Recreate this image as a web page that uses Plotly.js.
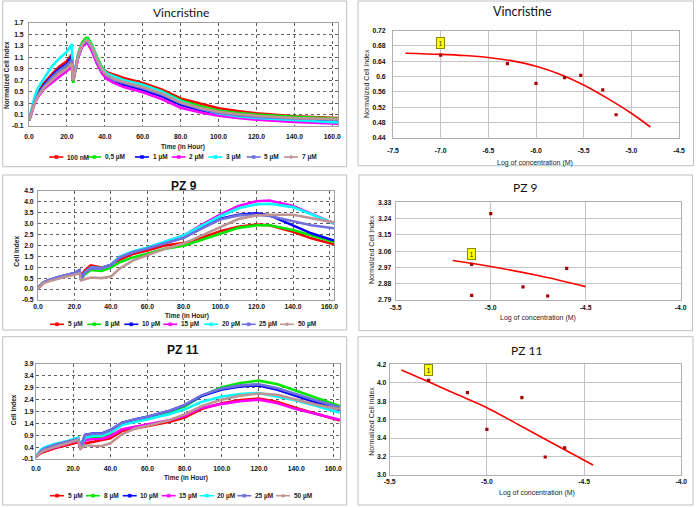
<!DOCTYPE html>
<html><head><meta charset="utf-8">
<script src="https://cdn.plot.ly/plotly-3.0.1.min.js"></script>
<style>html,body{margin:0;padding:0;background:#fff}#chart{width:696px;height:507px}</style>
</head><body><div id="chart"></div>
<script>
// ================= DATA =================
const vinLabels = ['100 nM','0,5 µM','1 µM','2 µM','3 µM','5 µM','7 µM'];
const pzLabels  = ['5 µM','8 µM','10 µM','15 µM','20 µM','25 µM','50 µM'];

// Vincristine – time course (Normalized Cell Index)
const vinTime = [0,1,3,5,8,12,16,20,22.5,23.3,24.5,26,28,30,31,33,36,38.5,41,45,50,60,70,80,90,100,110,120,140,163];
const vin100nM = [0,0.12,0.35,0.5,0.65,0.8,0.94,1.03,1.15, 0.72,0.9,1.15,1.33,1.4,1.4,1.3,1.08,0.92,0.84,0.79, 0.74,0.65,0.54,0.38,0.29,0.21,0.16,0.12,0.07,0.04];
const vin05uM  = [0,0.1,0.32,0.45,0.58,0.72,0.84,0.92,1.0, 0.65,0.88,1.17,1.36,1.44,1.44,1.33,1.1,0.92,0.82,0.76, 0.7,0.62,0.51,0.35,0.25,0.17,0.13,0.1,0.06,0.03];
const vin1uM   = [0,0.1,0.33,0.47,0.62,0.77,0.9,0.98,1.12, 0.72,0.88,1.12,1.3,1.36,1.36,1.25,1.0,0.84,0.74,0.67, 0.62,0.53,0.42,0.27,0.18,0.11,0.07,0.04,0.0,-0.03];
const vin2uM   = [0,0.08,0.3,0.42,0.55,0.66,0.76,0.86,0.93, 0.7,0.86,1.1,1.28,1.35,1.34,1.22,0.98,0.82,0.72,0.65, 0.58,0.49,0.37,0.22,0.14,0.08,0.04,0.01,-0.03,-0.06];
const vin3uM   = [0,0.15,0.42,0.58,0.74,0.94,1.08,1.2,1.33, 0.74,0.9,1.14,1.32,1.4,1.4,1.3,1.07,0.9,0.82,0.77, 0.7,0.62,0.5,0.33,0.21,0.12,0.07,0.04,0.0,-0.04];
const vin5uM   = [0,0.1,0.33,0.46,0.6,0.75,0.87,0.96,1.06, 0.72,0.88,1.13,1.31,1.38,1.37,1.27,1.03,0.86,0.77,0.7, 0.65,0.56,0.45,0.3,0.2,0.13,0.09,0.06,0.03,0.01];
const vin7uM   = [0,0.09,0.31,0.44,0.57,0.7,0.82,0.9,0.99, 0.7,0.88,1.14,1.32,1.4,1.39,1.29,1.05,0.88,0.79,0.72, 0.67,0.58,0.47,0.31,0.22,0.15,0.11,0.08,0.04,0.02];

// PZ 9 – time course (Cell Index)
const pz9Time = [0,1,2.5,5,10,15,20,22.8,23.6,25.8,29,35,40,45,52,60,70,80,90,100,110,120,127,140,150,162.5];
const pz9_5uM  = [0,0.14,0.26,0.36,0.5,0.6,0.7,0.8,0.6,0.87,1.08,0.99,1.1,1.35,1.6,1.77,2.0,2.1,2.35,2.65,2.85,2.95,2.92,2.62,2.32,2.05];
const pz9_8uM  = [0,0.14,0.26,0.36,0.5,0.6,0.7,0.8,0.45,0.68,0.87,0.83,0.98,1.23,1.45,1.62,1.85,1.98,2.25,2.55,2.8,2.92,2.92,2.7,2.45,2.15];
const pz9_10uM = [0,0.15,0.28,0.38,0.52,0.63,0.74,0.86,0.45,0.77,0.97,0.95,1.1,1.45,1.68,1.87,2.13,2.36,2.8,3.22,3.4,3.47,3.38,2.92,2.55,2.22];
const pz9_15uM = [0,0.14,0.27,0.37,0.51,0.62,0.72,0.84,0.45,0.77,0.97,0.95,1.1,1.47,1.7,1.88,2.15,2.45,2.95,3.4,3.8,4.02,4.05,3.8,3.45,3.0];
const pz9_20uM = [0,0.14,0.27,0.37,0.51,0.62,0.72,0.84,0.45,0.78,0.98,0.96,1.1,1.48,1.72,1.9,2.17,2.45,2.9,3.33,3.7,3.88,3.9,3.75,3.42,3.0];
const pz9_25uM = [0,0.15,0.28,0.38,0.52,0.63,0.74,0.87,0.45,0.77,0.97,0.95,1.1,1.45,1.68,1.86,2.12,2.35,2.78,3.18,3.37,3.4,3.34,3.1,2.92,2.78];
const pz9_50uM = [0,0.12,0.24,0.33,0.46,0.56,0.65,0.72,0.4,0.45,0.53,0.5,0.57,0.95,1.3,1.55,1.85,2.08,2.45,2.8,3.2,3.37,3.4,3.4,3.25,3.05];

// PZ 11 – time course (Cell Index)
const pz11Time = [0,1,2.5,4.5,10,17,22.7,24,26.4,31,35.5,40,46.4,53.6,60,72,80,89,100,110,120,130,140,150,163.5];
const pz11_5uM  = [0,0.06,0.14,0.21,0.35,0.49,0.62,0.39,0.56,0.63,0.7,0.77,1.08,1.19,1.26,1.47,1.65,2.0,2.25,2.38,2.44,2.3,2.05,1.82,1.52];
const pz11_8uM  = [0,0.08,0.2,0.3,0.45,0.6,0.74,0.4,0.72,0.81,0.85,0.98,1.38,1.52,1.62,1.88,2.12,2.55,2.92,3.1,3.2,3.05,2.76,2.5,2.13];
const pz11_10uM = [0,0.09,0.22,0.33,0.48,0.63,0.76,0.4,0.91,0.98,0.98,1.12,1.43,1.57,1.68,1.93,2.17,2.55,2.83,2.95,3.0,2.82,2.55,2.3,1.95];
const pz11_15uM = [0,0.07,0.17,0.26,0.4,0.55,0.68,0.31,0.7,0.74,0.74,0.87,1.15,1.26,1.33,1.54,1.72,2.05,2.22,2.33,2.4,2.25,2.0,1.8,1.55];
const pz11_20uM = [0,0.13,0.28,0.39,0.53,0.66,0.81,0.4,0.81,0.87,0.88,1.02,1.33,1.47,1.57,1.79,1.99,2.3,2.53,2.63,2.68,2.52,2.36,2.15,1.85];
const pz11_25uM = [0,0.1,0.23,0.34,0.49,0.64,0.74,0.4,0.9,0.97,0.97,1.11,1.43,1.57,1.68,1.93,2.18,2.58,2.87,3.0,3.05,2.88,2.62,2.38,2.08];
const pz11_50uM = [0,0.07,0.17,0.26,0.41,0.56,0.7,0.33,0.49,0.45,0.45,0.56,0.95,1.19,1.3,1.54,1.78,2.12,2.4,2.57,2.66,2.6,2.4,2.2,1.98];

// Dose-response (log of concentration vs normalized cell index)
const vinLogConc = [-7.0,-6.3,-6.0,-5.7,-5.53,-5.3,-5.16];
const vinNorm    = [0.656,0.634,0.582,0.597,0.603,0.565,0.500];
const vinFitX    = [-7.37,-7.0,-6.75,-6.5,-6.25,-6.0,-5.75,-5.5,-5.25,-5.0,-4.8];
const vinFitY    = [0.661,0.658,0.655,0.650,0.641,0.627,0.606,0.578,0.543,0.504,0.468];

const pz9LogConc = [-5.1,-5.1,-5.0,-4.83,-4.7,-4.6];
const pz9Norm    = [2.987,2.816,3.267,2.862,2.812,2.965];
const pz9FitX    = [-5.2,-5.0,-4.75,-4.5];
const pz9FitY    = [3.008,2.975,2.925,2.864];

const pz11LogConc = [-5.3,-5.1,-5.0,-4.82,-4.7,-4.6];
const pz11Norm    = [4.025,3.893,3.495,3.839,3.195,3.293];
const pz11FitX    = [-5.44,-5.3,-5.15,-5.0,-4.85,-4.7,-4.454];
const pz11FitY    = [4.139,4.01,3.869,3.73,3.56,3.388,3.108];

const pointLabel = '1';

// Tick labels
const timeTickVals = [0,20,40,60,80,100,120,140,160];
const timeTickText = ['0.0','20.0','40.0','60.0','80.0','100.0','120.0','140.0','160.0'];
const vinYTickVals = [-0.1,0.1,0.3,0.5,0.7,0.9,1.1,1.3,1.5,1.7];
const vinYTickText = ['-0.1','0.1','0.3','0.5','0.7','0.9','1.1','1.3','1.5','1.7'];
const pz9YTickVals = [-0.5,0,0.5,1,1.5,2,2.5,3,3.5,4,4.5];
const pz9YTickText = ['-0.5','0.0','0.5','1.0','1.5','2.0','2.5','3.0','3.5','4.0','4.5'];
const pz11YTickVals = [-0.1,0.4,0.9,1.4,1.9,2.4,2.9,3.4,3.9];
const pz11YTickText = ['-0.1','0.4','0.9','1.4','1.9','2.4','2.9','3.4','3.9'];
const vinXTickVals = [-7.5,-7,-6.5,-6,-5.5,-5,-4.5];
const vinXTickText = ['-7.5','-7.0','-6.5','-6.0','-5.5','-5.0','-4.5'];
const vinNTickVals = [0.44,0.48,0.52,0.56,0.6,0.64,0.68,0.72];
const vinNTickText = ['0.44','0.48','0.52','0.56','0.6','0.64','0.68','0.72'];
const pzXTickVals = [-5.5,-5,-4.5,-4];
const pzXTickText = ['-5.5','-5.0','-4.5','-4.0'];
const pz9NTickVals = [2.79,2.88,2.97,3.06,3.15,3.24,3.33];
const pz9NTickText = ['2.79','2.88','2.97','3.06','3.15','3.24','3.33'];
const pz11NTickVals = [3.0,3.2,3.4,3.6,3.8,4.0,4.2];
const pz11NTickText = ['3.0','3.2','3.4','3.6','3.8','4.0','4.2'];

// ================= STYLE / LAYOUT =================
const W = 696, H = 507;
const colors = ['#ff0000','#00e800','#0000ff','#ff00ff','#00ffff','#7070dd','#bf9494'];
const xd = (a,b) => [a/W, b/W];
const yd = (t,b) => [1-b/H, 1-t/H];
const px = x => x/W, py = y => 1-y/H;

const tickFont = {family:'Liberation Sans', size:6.8, color:'#111', weight:'bold'};

function leftAxis(extra){
  return Object.assign({gridcolor:'#606060', griddash:'dot', gridwidth:1, showline:true, linecolor:'#a0a0a0',
    mirror:true, zeroline:false, ticks:'', tickfont:tickFont, tickmode:'array', ticklabelstandoff:3, fixedrange:true}, extra);
}
function rightAxis(extra){
  return Object.assign({gridcolor:'#c4c4c4', gridwidth:1, showline:true, linecolor:'#b0b0b0',
    mirror:true, zeroline:false, ticks:'', tickfont:tickFont, tickmode:'array', ticklabelstandoff:2, fixedrange:true}, extra);
}

const traces = [];
function addSeries(xaxis, yaxis, time, arrs, labels){
  arrs.forEach((ys,i)=>{
    traces.push({type:'scatter', mode:'lines', x:time, y:ys, name:labels[i], xaxis, yaxis,
      line:{color:colors[i], width:2.6}, showlegend:false, hoverinfo:'skip'});
  });
}
addSeries('x','y', vinTime, [vin100nM,vin05uM,vin1uM,vin2uM,vin3uM,vin5uM,vin7uM], vinLabels);
addSeries('x3','y3', pz9Time, [pz9_5uM,pz9_8uM,pz9_10uM,pz9_15uM,pz9_20uM,pz9_25uM,pz9_50uM], pzLabels);
addSeries('x5','y5', pz11Time, [pz11_5uM,pz11_8uM,pz11_10uM,pz11_15uM,pz11_20uM,pz11_25uM,pz11_50uM], pzLabels);

function addDose(xaxis, yaxis, fx, fy, cx, cy){
  traces.push({type:'scatter', mode:'lines', x:fx, y:fy, xaxis, yaxis, line:{color:'#ff0000', width:1.6, shape:'spline'}, showlegend:false, hoverinfo:'skip'});
  traces.push({type:'scatter', mode:'markers', x:cx, y:cy, xaxis, yaxis, marker:{color:'#a80000', size:3.2, symbol:'square'}, showlegend:false, hoverinfo:'skip'});
}
addDose('x2','y2', vinFitX, vinFitY, vinLogConc, vinNorm);
addDose('x4','y4', pz9FitX, pz9FitY, pz9LogConc, pz9Norm);
addDose('x6','y6', pz11FitX, pz11FitY, pz11LogConc, pz11Norm);

const layout = {
  width:W, height:H, margin:{l:0,r:0,t:0,b:0}, paper_bgcolor:'#fff', plot_bgcolor:'#fff',
  showlegend:false, hovermode:false,
  xaxis:  leftAxis({domain:xd(29,338), range:[0,163], anchor:'y', tickvals:timeTickVals, ticktext:timeTickText, ticklabelstandoff:4}),
  yaxis:  leftAxis({domain:yd(23,126), range:[-0.1,1.7], anchor:'x', tickvals:vinYTickVals, ticktext:vinYTickText, ticklabelstandoff:3}),
  xaxis3: leftAxis({domain:xd(38,334), range:[0,162.5], anchor:'y3', tickvals:timeTickVals, ticktext:timeTickText, ticklabelstandoff:0}),
  yaxis3: leftAxis({domain:yd(190.7,300), range:[-0.5,4.5], anchor:'x3', tickvals:pz9YTickVals, ticktext:pz9YTickText, ticklabelstandoff:2}),
  xaxis5: leftAxis({domain:xd(36,340), range:[0,163.6], anchor:'y5', tickvals:timeTickVals, ticktext:timeTickText, ticklabelstandoff:3}),
  yaxis5: leftAxis({domain:yd(364,459), range:[-0.1,3.9], anchor:'x5', tickvals:pz11YTickVals, ticktext:pz11YTickText, ticklabelstandoff:0}),
  xaxis2: rightAxis({domain:xd(393,679), range:[-7.5,-4.5], anchor:'y2', tickvals:vinXTickVals, ticktext:vinXTickText, ticklabelstandoff:6}),
  yaxis2: rightAxis({domain:yd(30.7,137.7), range:[0.44,0.72], anchor:'x2', tickvals:vinNTickVals, ticktext:vinNTickText, ticklabelstandoff:5}),
  xaxis4: rightAxis({domain:xd(395.7,680.7), range:[-5.5,-4.0], anchor:'y4', tickvals:pzXTickVals, ticktext:pzXTickText, ticklabelstandoff:1}),
  yaxis4: rightAxis({domain:yd(202.3,300), range:[2.79,3.33], anchor:'x4', tickvals:pz9NTickVals, ticktext:pz9NTickText, ticklabelstandoff:2}),
  xaxis6: rightAxis({domain:xd(389.7,681.3), range:[-5.5,-4.0], anchor:'y6', tickvals:pzXTickVals, ticktext:pzXTickText, ticklabelstandoff:0}),
  yaxis6: rightAxis({domain:yd(364.3,475), range:[3.0,4.2], anchor:'x6', tickvals:pz11NTickVals, ticktext:pz11NTickText, ticklabelstandoff:1}),
  shapes:[], annotations:[]
};

// panel borders
[[2.7,1,346.7,166.7],[358,1,693.5,165.7],[2.7,175,346.7,330],[359,175,692.5,330.7],[2.7,336.7,346.7,505],[358,336.7,693,505]]
.forEach(r=>layout.shapes.push({type:'rect', xref:'paper', yref:'paper', x0:px(r[0]), x1:px(r[2]), y0:py(r[3]), y1:py(r[1]), line:{color:'#c0c0c0', width:1}}));

function ann(text, x, y, font, extra){
  layout.annotations.push(Object.assign({text, xref:'paper', yref:'paper', x:px(x), y:py(y), xanchor:'center', yanchor:'middle', showarrow:false, font}, extra||{}));
}
const calTitle = {family:'Lato', size:12, color:'#111'};
const boldTitle = {family:'Liberation Sans', size:12, color:'#111', weight:'bold'};
const axTitleB = {family:'Liberation Sans', size:6.5, color:'#222', weight:'bold'};
const axTitleR = {family:'Liberation Sans', size:7, color:'#222'};

ann('Vincristine', 181, 12.3, calTitle);
ann('Vincristine', 522, 11.5, Object.assign({}, calTitle, {size:12.5}));
ann('PZ 9', 184, 186, boldTitle);
ann('PZ 9', 525.5, 187, calTitle);
ann('PZ 11', 183, 350, boldTitle);
ann('PZ 11', 526.5, 350, calTitle);

ann('Time (in Hour)', 183, 147, axTitleB);
ann('Normalized Cell Index', 7, 75, axTitleB, {textangle:-90});
ann('Time (in Hour)', 186.7, 315.7, axTitleB);
ann('Cell Index', 15.7, 251, axTitleB, {textangle:-90});
ann('Time (in Hour)', 186, 478.3, axTitleB);
ann('Cell Index', 13.3, 410, axTitleB, {textangle:-90});
ann('Log of concentration (M)', 535, 163, axTitleR);
ann('Normalized Cell Index', 367, 83, axTitleR, {textangle:-90});
ann('Log of concentration (M)', 538, 318.3, axTitleR);
ann('Normalized Cell Index', 371, 250, axTitleR, {textangle:-90});
ann('Log of concentration (M)', 536.5, 493.3, axTitleR);
ann('Normalized Cell Index', 370.7, 421, axTitleR, {textangle:-90});

// data labels on first point
[['x2','y2',vinLogConc[0],vinNorm[0],12],['x4','y4',pz9LogConc[0],pz9Norm[0],10],['x6','y6',pz11LogConc[0],pz11Norm[0],10]]
.forEach(d=>layout.annotations.push({text:pointLabel, xref:d[0], yref:d[1], x:d[2], y:d[3], yshift:d[4], showarrow:false,
  bgcolor:'#ffff00', bordercolor:'#8a8a00', borderwidth:1, borderpad:1.5, font:{family:'Liberation Sans', size:7, color:'#333'}}));

// manual legends
const legendFont = {family:'Liberation Sans', size:6.5, color:'#222', weight:'bold'};
function legend(labels, starts, y){
  labels.forEach((lab,i)=>{
    const s = starts[i];
    layout.shapes.push({type:'line', xref:'paper', yref:'paper', x0:px(s), x1:px(s+14), y0:py(y), y1:py(y), line:{color:colors[i], width:1.6}});
    layout.shapes.push({type: i===6?'circle':'rect', xref:'paper', yref:'paper', x0:px(s+5.5), x1:px(s+8.5), y0:py(y+1.5), y1:py(y-1.5), fillcolor:colors[i], line:{color:colors[i], width:0.5}});
    layout.annotations.push({text:lab, xref:'paper', yref:'paper', x:px(s+15.5), y:py(y), xanchor:'left', yanchor:'middle', showarrow:false, font:legendFont});
  });
}
legend(vinLabels, [49.3,87.3,135,171.7,208.3,246.7,284], 157);
legend(pzLabels, [50,87.3,124.3,163.3,204,241.7,280], 324.3);
legend(pzLabels, [50,86,122.7,161.7,200,237.3,276], 495.7);

Plotly.newPlot('chart', traces, layout, {displayModeBar:false, staticPlot:true});
</script>
</body></html>
